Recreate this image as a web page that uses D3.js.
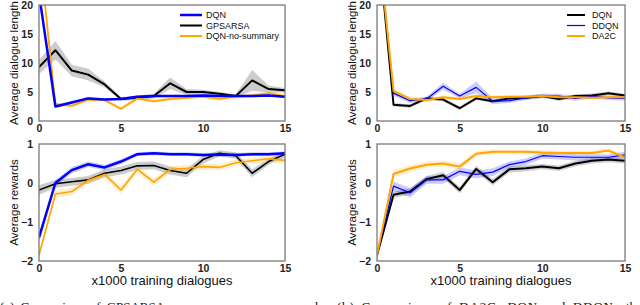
<!DOCTYPE html>
<html><head><meta charset="utf-8">
<script src="https://cdn.jsdelivr.net/npm/d3@7/dist/d3.min.js"></script>
<style>body{margin:0;background:#fff}svg{display:block}</style>
</head><body>
<svg id="c" width="640" height="305"></svg>
<script>
const steps = d3.range(0, 16);
const xTicks = [0, 5, 10, 15];
const lenTicks = [0, 5, 10, 15, 20];
const rewTicks = [-2, -1, 0, 1];

// (a) dialogue length
const aLenDQN     = [22, 2.5, 3.2, 3.9, 3.7, 3.8, 4.2, 4.3, 4.3, 4.3, 4.4, 4.3, 4.3, 4.3, 4.4, 4.2];
const aLenGP      = [9.3, 12.2, 8.7, 8.0, 6.3, 3.8, 4.0, 4.3, 6.5, 5.0, 5.0, 4.7, 4.3, 7.0, 5.5, 5.3];
const aLenNoSum   = [30, 2.9, 2.6, 3.7, 3.6, 2.1, 3.9, 3.4, 3.8, 4.0, 4.2, 3.8, 4.2, 4.4, 4.8, 4.3];
const aLenDQNErr  = [0.3, 0.3, 0.3, 0.3, 0.2, 0.2, 0.2, 0.2, 0.2, 0.2, 0.2, 0.2, 0.2, 0.2, 0.2, 0.2];
const aLenGPErr   = [1.2, 1.6, 1.0, 1.0, 0.5, 0.3, 0.4, 0.4, 1.0, 0.5, 0.4, 0.3, 0.3, 1.8, 0.6, 0.4];
const aLenNoSumErr= [0.3, 0.3, 0.3, 0.3, 0.3, 0.3, 0.3, 0.3, 0.3, 0.3, 0.3, 0.3, 0.3, 0.3, 0.3, 0.3];

// (a) rewards
const aRewDQN     = [-1.40, 0.0, 0.33, 0.48, 0.40, 0.55, 0.74, 0.76, 0.74, 0.74, 0.72, 0.73, 0.72, 0.74, 0.74, 0.76];
const aRewGP      = [-0.18, -0.02, 0.03, 0.08, 0.25, 0.32, 0.44, 0.45, 0.32, 0.25, 0.60, 0.76, 0.70, 0.25, 0.55, 0.74];
const aRewNoSum   = [-1.85, -0.28, -0.22, 0.07, 0.22, -0.18, 0.35, 0.02, 0.35, 0.38, 0.42, 0.40, 0.52, 0.57, 0.62, 0.58];
const aRewDQNErr  = [0.10, 0.08, 0.08, 0.07, 0.07, 0.06, 0.05, 0.05, 0.05, 0.05, 0.05, 0.05, 0.05, 0.05, 0.05, 0.05];
const aRewGPErr   = [0.12, 0.10, 0.10, 0.10, 0.10, 0.10, 0.10, 0.10, 0.10, 0.10, 0.10, 0.08, 0.08, 0.10, 0.08, 0.08];
const aRewNoSumErr= [0.08, 0.10, 0.09, 0.08, 0.08, 0.10, 0.08, 0.09, 0.08, 0.08, 0.08, 0.08, 0.08, 0.08, 0.08, 0.08];

// (b) dialogue length
const bLenDQN     = [33, 2.8, 2.6, 3.9, 3.7, 2.2, 3.9, 3.4, 3.9, 4.0, 4.3, 3.8, 4.3, 4.4, 4.8, 4.4];
const bLenDDQN    = [33, 4.8, 3.5, 3.8, 6.0, 4.3, 5.8, 3.4, 3.5, 4.0, 4.3, 4.3, 3.9, 4.3, 4.0, 3.9];
const bLenDA2C    = [33, 5.2, 3.8, 3.6, 4.1, 3.8, 4.3, 4.1, 4.2, 4.2, 4.3, 4.1, 4.1, 4.0, 4.1, 4.1];
const bLenDQNErr  = [0.3, 0.3, 0.3, 0.3, 0.3, 0.3, 0.3, 0.3, 0.3, 0.3, 0.3, 0.3, 0.3, 0.3, 0.3, 0.3];
const bLenDDQNErr = [0.5, 0.5, 0.4, 0.4, 0.6, 0.4, 1.0, 0.5, 0.4, 0.4, 0.4, 0.4, 0.4, 0.4, 0.4, 0.4];
const bLenDA2CErr = [0.3, 0.4, 0.3, 0.3, 0.3, 0.3, 0.3, 0.3, 0.3, 0.3, 0.3, 0.3, 0.3, 0.3, 0.3, 0.3];

// (b) rewards
const bRewDQN     = [-1.85, -0.30, -0.22, 0.10, 0.20, -0.18, 0.36, 0.02, 0.35, 0.38, 0.42, 0.38, 0.50, 0.57, 0.60, 0.57];
const bRewDDQN    = [-1.85, -0.08, -0.25, 0.08, 0.08, 0.30, 0.22, 0.28, 0.47, 0.55, 0.70, 0.68, 0.66, 0.66, 0.66, 0.72];
const bRewDA2C    = [-1.85, 0.23, 0.37, 0.47, 0.50, 0.42, 0.75, 0.80, 0.80, 0.80, 0.78, 0.77, 0.77, 0.77, 0.83, 0.66];
const bRewDQNErr  = [0.08, 0.08, 0.08, 0.08, 0.08, 0.08, 0.08, 0.08, 0.08, 0.08, 0.07, 0.07, 0.07, 0.07, 0.07, 0.07];
const bRewDDQNErr = [0.10, 0.12, 0.12, 0.10, 0.10, 0.10, 0.10, 0.10, 0.08, 0.08, 0.08, 0.08, 0.08, 0.08, 0.08, 0.08];
const bRewDA2CErr = [0.10, 0.10, 0.09, 0.08, 0.08, 0.08, 0.07, 0.06, 0.06, 0.06, 0.06, 0.06, 0.06, 0.06, 0.06, 0.06];

const seriesNamesA = ["DQN", "GPSARSA", "DQN-no-summary"];
const seriesNamesB = ["DQN", "DDQN", "DA2C"];
const xLabel = "x1000 training dialogues";
const lenLabel = "Average dialogue length";
const rewLabel = "Average rewards";
const captionA1 = "(a)  Comparison  of  GPSARSA";
const captionA2 = "on  summary  space  and";
const captionB1 = "(b)  Comparison  of  DA2C,  DQN  and  DDQN";
const captionB2 = "the";

const BLUE = "#0000ff", BLACK = "#000000", ORANGE = "#ffa500", GREY = "#9a9a9a";
const svg = d3.select("#c");
const FONT = "Liberation Sans, Arial, sans-serif";

let clipId = 0;
function panel(opts) {
  const {x0, x1, y0, y1, yDomain, yTicks, ylabel, ylabelX, series, legend, showXLabel} = opts;
  const x = d3.scaleLinear().domain([0, 15]).range([x0, x1]);
  const y = d3.scaleLinear().domain(yDomain).range([y1, y0]);
  const id = "clip" + (clipId++);
  svg.append("clipPath").attr("id", id).append("rect")
    .attr("x", x0).attr("y", y0).attr("width", x1 - x0).attr("height", y1 - y0);
  const g = svg.append("g").attr("clip-path", `url(#${id})`);
  series.forEach(s => {
    const area = d3.area().x((d, i) => x(steps[i]))
      .y0((d, i) => y(d - s.err[i])).y1((d, i) => y(d + s.err[i]));
    g.append("path").attr("d", area(s.vals))
      .attr("fill", s.band).attr("fill-opacity", s.bandOp).attr("stroke", "none");
  });
  series.forEach(s => {
    const line = d3.line().x((d, i) => x(steps[i])).y(d => y(d));
    g.append("path").attr("d", line(s.vals)).attr("fill", "none")
      .attr("stroke", s.color).attr("stroke-width", s.w).attr("stroke-linejoin", "round");
  });
  svg.append("rect").attr("x", x0).attr("y", y0).attr("width", x1 - x0).attr("height", y1 - y0)
    .attr("fill", "none").attr("stroke", "#7a7a7a").attr("stroke-width", 1.3);
  const ax = svg.append("g").attr("transform", `translate(0,${y1})`)
    .call(d3.axisBottom(x).tickValues(xTicks).tickFormat(d3.format("d")).tickSize(0).tickPadding(4));
  const ay = svg.append("g").attr("transform", `translate(${x0},0)`)
    .call(d3.axisLeft(y).tickValues(yTicks).tickFormat(d3.format("d")).tickSize(0).tickPadding(6));
  [ax, ay].forEach(a => {
    a.select(".domain").remove();
    a.selectAll("text").attr("font-family", FONT).attr("font-size", 10.5)
      .attr("font-weight", "bold").attr("fill", "#222");
  });
  svg.append("text").attr("transform", `translate(${ylabelX},${(y0 + y1) / 2}) rotate(-90)`)
    .attr("text-anchor", "middle").attr("dominant-baseline", "central")
    .attr("font-family", FONT).attr("font-size", 11.5).attr("fill", "#111").text(ylabel);
  if (showXLabel) {
    svg.append("text").attr("x", (x0 + x1) / 2).attr("y", 285)
      .attr("text-anchor", "middle").attr("font-family", FONT).attr("font-size", 13)
      .attr("fill", "#111").text(xLabel);
  }
  if (legend) {
    legend.items.forEach((it, i) => {
      const ly = legend.y + i * 10.5;
      svg.append("line").attr("x1", legend.x).attr("x2", legend.x + legend.len)
        .attr("y1", ly).attr("y2", ly).attr("stroke", it.color).attr("stroke-width", it.w);
      svg.append("text").attr("x", legend.tx).attr("y", ly).attr("dominant-baseline", "central")
        .attr("font-family", FONT).attr("font-size", 9).attr("fill", "#111").text(it.name);
    });
  }
}

panel({x0: 39, x1: 285, y0: 5, y1: 121, yDomain: [0, 20], yTicks: lenTicks,
  ylabel: lenLabel, ylabelX: 14,
  series: [
    {vals: aLenGP, err: aLenGPErr, color: BLACK, w: 2, band: GREY, bandOp: 0.5},
    {vals: aLenNoSum, err: aLenNoSumErr, color: ORANGE, w: 1.8, band: ORANGE, bandOp: 0.2},
    {vals: aLenDQN, err: aLenDQNErr, color: BLUE, w: 2.5, band: BLUE, bandOp: 0.2}
  ],
  legend: {x: 180, len: 22, tx: 206, y: 15, items: [
    {name: seriesNamesA[0], color: BLUE, w: 2.5},
    {name: seriesNamesA[1], color: BLACK, w: 2},
    {name: seriesNamesA[2], color: ORANGE, w: 2}]}
});
panel({x0: 39, x1: 285, y0: 144, y1: 261, yDomain: [-2, 1], yTicks: rewTicks,
  ylabel: rewLabel, ylabelX: 14, showXLabel: true,
  series: [
    {vals: aRewGP, err: aRewGPErr, color: BLACK, w: 1.6, band: GREY, bandOp: 0.5},
    {vals: aRewNoSum, err: aRewNoSumErr, color: ORANGE, w: 1.6, band: ORANGE, bandOp: 0.2},
    {vals: aRewDQN, err: aRewDQNErr, color: BLUE, w: 2.5, band: BLUE, bandOp: 0.2}
  ]
});
panel({x0: 377, x1: 625, y0: 5, y1: 121, yDomain: [0, 20], yTicks: lenTicks,
  ylabel: lenLabel, ylabelX: 352,
  series: [
    {vals: bLenDQN, err: bLenDQNErr, color: BLACK, w: 2, band: GREY, bandOp: 0.5},
    {vals: bLenDDQN, err: bLenDDQNErr, color: BLUE, w: 1.2, band: BLUE, bandOp: 0.2},
    {vals: bLenDA2C, err: bLenDA2CErr, color: ORANGE, w: 2, band: ORANGE, bandOp: 0.2}
  ],
  legend: {x: 567, len: 18, tx: 592, y: 15, items: [
    {name: seriesNamesB[0], color: BLACK, w: 2},
    {name: seriesNamesB[1], color: BLUE, w: 1.2},
    {name: seriesNamesB[2], color: ORANGE, w: 2}]}
});
panel({x0: 377, x1: 625, y0: 144, y1: 261, yDomain: [-2, 1], yTicks: rewTicks,
  ylabel: rewLabel, ylabelX: 352, showXLabel: true,
  series: [
    {vals: bRewDQN, err: bRewDQNErr, color: BLACK, w: 2, band: GREY, bandOp: 0.5},
    {vals: bRewDDQN, err: bRewDDQNErr, color: BLUE, w: 1.2, band: BLUE, bandOp: 0.2},
    {vals: bRewDA2C, err: bRewDA2CErr, color: ORANGE, w: 2, band: ORANGE, bandOp: 0.2}
  ]
});

// captions: only their top edge shows at the bottom of the picture, as in the reference
const cap = (x, txt, anchor, len) => {
  const t = svg.append("text").attr("x", x).attr("y", 311).attr("text-anchor", anchor)
    .attr("font-family", "Liberation Serif, serif").attr("font-size", 13).attr("fill", "#111")
    .attr("word-spacing", "3px").text(txt);
  if (len) t.attr("textLength", len).attr("lengthAdjust", "spacing");
};
cap(0, captionA1, "start", 165);
cap(318, captionA2, "end");
cap(337, captionB1, "start", 276);
cap(626, captionB2, "start");
</script>
</body></html>
